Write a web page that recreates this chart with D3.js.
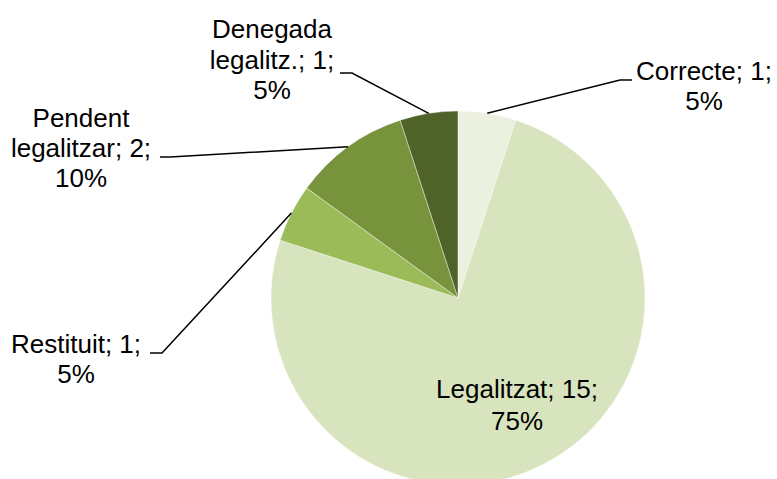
<!DOCTYPE html>
<html>
<head>
<meta charset="utf-8">
<script src="https://cdn.jsdelivr.net/npm/d3@7"></script>
<style>
  html, body { margin: 0; padding: 0; background: #fff; }
  svg { display: block; }
  text { font-family: Arial, "Liberation Sans", sans-serif; font-size: 26px; fill: #000; }
</style>
</head>
<body>
<svg id="chart" width="777" height="479"></svg>
<script>
// slice data, clockwise from 12 o'clock
const categories = ['Correcte', 'Legalitzat', 'Restituit', 'Pendent legalitzar', 'Denegada legalitz.'];
const counts = [1, 15, 1, 2, 1];
const percents = ['5%', '75%', '5%', '10%', '5%'];
const colors = ['#ebf1de', '#d7e4bd', '#9bbb59', '#77933c', '#4f6228'];

// label lines as they are broken in the picture
const labelLines = [
  ['Correcte; 1;', '5%'],
  ['Legalitzat; 15;', '75%'],
  ['Restituit; 1;', '5%'],
  ['Pendent', 'legalitzar; 2;', '10%'],
  ['Denegada', 'legalitz.; 1;', '5%'],
];

const svg = d3.select('#chart');
const cx = 458, cy = 298, r = 187;

const pie = d3.pie().sort(null).value((d) => d)(counts);
const arc = d3.arc().innerRadius(0).outerRadius(r);

const g = svg.append('g').attr('transform', `translate(${cx},${cy})`);

g.selectAll('path')
  .data(pie)
  .join('path')
  .attr('d', arc)
  .attr('fill', (d, i) => colors[i])
  .attr('stroke', '#fff')
  .attr('stroke-opacity', 0.6)
  .attr('stroke-width', 0.7);

// label layout: text centre x, first baseline, line gap, elbow of the leader
const labelPos = [
  { x: 704, y: 80, gap: 30, elbow: [620, 80], end: 632 },
  { x: 517, y: 398, gap: 32, elbow: null },
  { x: 76, y: 353, gap: 30, elbow: [162, 353], end: 150 },
  { x: 81, y: 127, gap: 30, elbow: [170, 157], end: 160 },
  { x: 272, y: 38, gap: 30.5, elbow: [352, 73], end: 340 },
];

// leader lines start at the slice mid-angle on the rim
pie.forEach((d, i) => {
  const p = labelPos[i];
  if (!p.elbow) return;
  const a = (d.startAngle + d.endAngle) / 2;
  const sx = cx + Math.sin(a) * r;
  const sy = cy - Math.cos(a) * r;
  svg.append('path')
    .attr('d', d3.line()([[sx, sy], p.elbow, [p.end, p.elbow[1]]]))
    .attr('fill', 'none')
    .attr('stroke', '#000')
    .attr('stroke-width', 1.5);
});

labelLines.forEach((lines, i) => {
  const p = labelPos[i];
  const t = svg.append('text').attr('text-anchor', 'middle');
  lines.forEach((s, j) => {
    t.append('tspan')
      .attr('x', p.x)
      .attr('y', p.y + j * p.gap)
      .text(s);
  });
});
</script>
</body>
</html>
